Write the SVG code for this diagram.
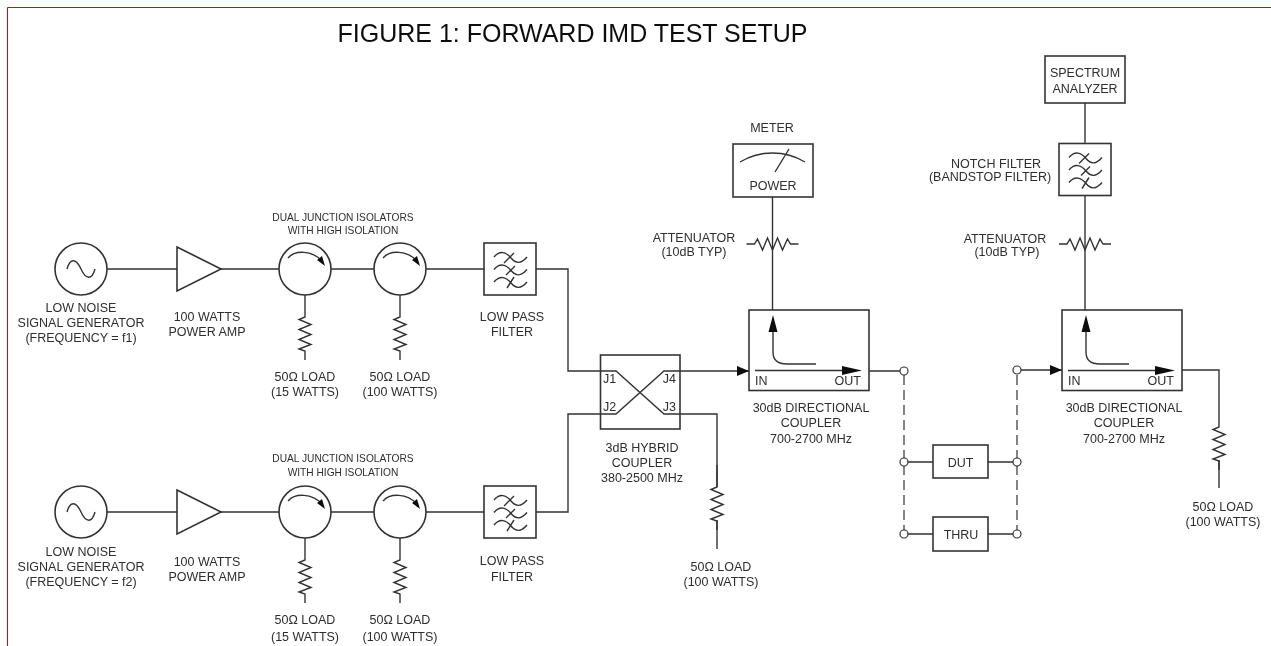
<svg xmlns="http://www.w3.org/2000/svg" width="1271" height="646" viewBox="0 0 1271 646">
<style>
text{font-family:"Liberation Sans",Arial,sans-serif;font-size:12.5px;fill:#2e2e2e;text-anchor:middle}
.s{font-size:10.2px}
.st{text-anchor:start}.en{text-anchor:end}
.l{fill:none;stroke:#333;stroke-width:1.4}
.b{fill:#fff;stroke:#333;stroke-width:1.6}
.a{fill:#111;stroke:none}
.d{fill:none;stroke:#333;stroke-width:1.2;stroke-dasharray:10 5}
.c{fill:#fff;stroke:#333;stroke-width:1.2}
</style>
<defs>
<filter id="soft" x="0" y="0" width="100%" height="100%"><feGaussianBlur stdDeviation="0.45"/></filter>
<g id="gen"><circle class="b" r="26"/><path class="l" d="M-14,0C-11,-11 -5,-11 0,0S11,11 14,0"/></g>
<g id="amp"><path class="b" d="M0,-22L44,0L0,22Z"/></g>
<g id="iso"><circle class="b" r="26"/><path class="l" d="M-17,-11C-10,-19 7,-19 17,-8"/><path class="a" d="M20,-3L12,-9L17,-13Z"/></g>
<g id="res"><path class="l" d="M0,0V22L-6,24.500L6,29.500L-6,34.500L6,39.500L-6,44.500L6,49.500L-6,54L0,56V65"/></g>
<g id="att"><path class="l" d="M-26,0H-18L-15,-5L-10,6L-5,-6L0,6L5,-6L10,6L15,-5L18,0H26"/></g>
<g id="flt"><rect class="b" x="-26" y="-26" width="52" height="52"/><path class="l" d="M-16,-12C-10,-19 -4,-17 1,-11S11,-5 17,-12M-16,0.500C-10,-6.500 -4,-4.500 1,1.500S11,7.500 17,0.500M-16,13C-10,6 -4,8 1,14S11,20 17,13M4,-16L-6,-6M5,-3L-4,6M4,8L-3,19"/></g>
<g id="cpl"><rect class="b" x="0" y="0" width="120" height="80.500"/><path class="l" d="M6,60.500H95M24,18V42Q24,54 38,54H67"/><path class="a" d="M24,5L28.500,22H19.500ZM113,60.500L93,56V65Z"/><text class="st" x="6" y="75">IN</text><text class="en" x="112" y="75">OUT</text></g>
</defs>
<path d="M7.500,646V7.500H1271" fill="none" stroke="#e60000" stroke-width="1"/>
<g filter="url(#soft)">
<text id="title" x="572.500" y="42" style="font-size:25px;fill:#111">FIGURE 1: FORWARD IMD TEST SETUP</text>
<g id="connectors">
<path class="l" d="M107,269H177M221,269H279M331,269H374M426,269H484M536,269H568V371H616L664,414H680H717V487M107,512H177M221,512H279M331,512H374M426,512H484M536,512H568V414H616L664,371H749M869,371H904M772.500,197V310M1020,370H1062M1182,370H1219V405M1085,103V143M1085,196V310M908,462H933M988,462H1013M908,534H933M988,534H1013"/>
<path class="d" d="M904,375V530M1017,375V530"/>
<path class="a" d="M749,371L737,366V376ZM1062,370L1050,365V375Z"/>
<circle class="c" cx="904" cy="371" r="4"/><circle class="c" cx="1017" cy="370" r="4"/>
<circle class="c" cx="904" cy="462" r="4"/><circle class="c" cx="1017" cy="462" r="4"/>
<circle class="c" cx="904" cy="534" r="4"/><circle class="c" cx="1017" cy="534" r="4"/>
</g>
<g id="generator1"><use href="#gen" x="81" y="269"/><text x="81" y="312">LOW NOISE</text><text x="81" y="327">SIGNAL GENERATOR</text><text x="81" y="342">(FREQUENCY = f1)</text></g>
<g id="amp1"><use href="#amp" x="177" y="269"/><text x="207" y="321">100 WATTS</text><text x="207" y="336">POWER AMP</text></g>
<g id="isolators1"><use href="#iso" x="305" y="269"/><use href="#iso" x="400" y="269"/><text class="s" x="343" y="221">DUAL JUNCTION ISOLATORS</text><text class="s" x="343" y="234">WITH HIGH ISOLATION</text></g>
<g id="load1a"><use href="#res" x="305" y="295"/><text x="305" y="381">50Ω LOAD</text><text x="305" y="396">(15 WATTS)</text></g>
<g id="load1b"><use href="#res" x="400" y="295"/><text x="400" y="381">50Ω LOAD</text><text x="400" y="396">(100 WATTS)</text></g>
<g id="lpf1"><use href="#flt" x="510" y="269"/><text x="512" y="321">LOW PASS</text><text x="512" y="336">FILTER</text></g>
<g id="generator2"><use href="#gen" x="81" y="512"/><text x="81" y="556">LOW NOISE</text><text x="81" y="571">SIGNAL GENERATOR</text><text x="81" y="586">(FREQUENCY = f2)</text></g>
<g id="amp2"><use href="#amp" x="177" y="512"/><text x="207" y="566">100 WATTS</text><text x="207" y="581">POWER AMP</text></g>
<g id="isolators2"><use href="#iso" x="305" y="512"/><use href="#iso" x="400" y="512"/><text class="s" x="343" y="462">DUAL JUNCTION ISOLATORS</text><text class="s" x="343" y="476">WITH HIGH ISOLATION</text></g>
<g id="load2a"><use href="#res" x="305" y="538"/><text x="305" y="624">50Ω LOAD</text><text x="305" y="641">(15 WATTS)</text></g>
<g id="load2b"><use href="#res" x="400" y="538"/><text x="400" y="624">50Ω LOAD</text><text x="400" y="641">(100 WATTS)</text></g>
<g id="lpf2"><use href="#flt" x="510" y="512"/><text x="512" y="565">LOW PASS</text><text x="512" y="581">FILTER</text></g>
<g id="hybrid"><rect x="600.500" y="355" width="79.500" height="74" fill="none" stroke="#333" stroke-width="1.600"/><text class="st" x="603" y="383">J1</text><text class="st" x="603" y="411">J2</text><text class="en" x="676" y="383">J4</text><text class="en" x="676" y="411">J3</text><text x="642" y="452">3dB HYBRID</text><text x="642" y="467">COUPLER</text><text x="642" y="482">380-2500 MHz</text></g>
<g id="load3"><use href="#res" x="717" y="465"/><path class="l" d="M717,520V549"/><text x="721" y="571">50Ω LOAD</text><text x="721" y="586">(100 WATTS)</text></g>
<g id="coupler1"><use href="#cpl" x="749" y="310"/><text x="811" y="412">30dB DIRECTIONAL</text><text x="811" y="427">COUPLER</text><text x="811" y="443">700-2700 MHz</text></g>
<g id="meter"><text x="772" y="132">METER</text><rect class="b" x="733" y="144" width="80" height="53"/><path class="l" d="M740,162C760,150 785,150 805,162M775,172L789,149"/><text x="773" y="190">POWER</text></g>
<g id="att1"><use href="#att" x="772.500" y="244"/><text x="694" y="242">ATTENUATOR</text><text x="694" y="256">(10dB TYP)</text></g>
<g id="coupler2"><use href="#cpl" x="1062" y="310"/><text x="1124" y="412">30dB DIRECTIONAL</text><text x="1124" y="427">COUPLER</text><text x="1124" y="443">700-2700 MHz</text></g>
<g id="att2"><use href="#att" x="1085" y="244"/><text x="1005" y="243">ATTENUATOR</text><text x="1007" y="256">(10dB TYP)</text></g>
<g id="notch"><use href="#flt" x="1085" y="169.500"/><text x="996" y="168">NOTCH FILTER</text><text x="990" y="181">(BANDSTOP FILTER)</text></g>
<g id="analyzer"><rect class="b" x="1045" y="56" width="80" height="47"/><text x="1085" y="77">SPECTRUM</text><text x="1085" y="93">ANALYZER</text></g>
<g id="dut"><rect class="b" x="933" y="445" width="55" height="33"/><text x="960.500" y="467">DUT</text></g>
<g id="thru"><rect class="b" x="933" y="517" width="55" height="34"/><text x="961" y="539">THRU</text></g>
<g id="load4"><use href="#res" x="1219" y="405"/><path class="l" d="M1219,460V488"/><text x="1223" y="511">50Ω LOAD</text><text x="1223" y="526">(100 WATTS)</text></g>
</g>
</svg>
